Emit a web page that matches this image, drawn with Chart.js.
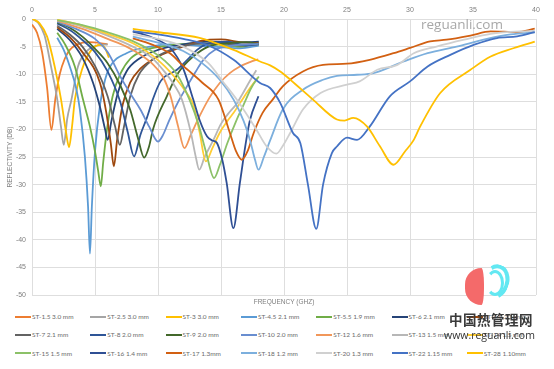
<!DOCTYPE html>
<html>
<head>
<meta charset="utf-8">
<script src="https://cdn.jsdelivr.net/npm/chart.js@4.4.1/dist/chart.umd.min.js"></script>
<style>
  html, body { margin: 0; padding: 0; background: #fff; }
  #wrap { position: relative; width: 554px; height: 369px; overflow: hidden; font-family: Lato, "Open Sans", sans-serif; }
  #chartBox { position: absolute; left: 0; top: 0; width: 554px; height: 310px; }
  .lg { position: absolute; height: 10px; font-size: 6.5px; color: #6b6b6b; white-space: nowrap; line-height: 10px; }
  .lg i { display: inline-block; width: 16px; height: 2px; vertical-align: middle; margin-right: 1px; margin-top: -1px; }
  .wm1 { position: absolute; left: 421px; top: 15px; font-size: 13.5px; color: #a8a8a8; font-family: "Open Sans", sans-serif; }
  .wm2 { position: absolute; left: 449px; top: 309px; font-size: 13.5px; font-weight: bold; color: #3a3a3a; font-family: "Noto Sans CJK SC", sans-serif; letter-spacing: 0.5px; }
  .wm3 { position: absolute; left: 444px; top: 328px; font-size: 10.5px; color: #333; font-family: "Open Sans", sans-serif; }
  .logoA { position: absolute; left: 465px; top: 268px; width: 19px; height: 37px; background: #f46a6a; border-radius: 19px 3px 3px 19px / 19px 19px 19px 19px; }
  .logoB { position: absolute; left: 481px; top: 264px; width: 20px; height: 28px; border: 4px solid #62e8f2; border-left-color: transparent; border-bottom-color: transparent; border-radius: 50%; transform: rotate(20deg); }
  .logoC { position: absolute; left: 486px; top: 270px; width: 12px; height: 20px; border: 3px solid #62e8f2; border-left-color: transparent; border-radius: 50%; }
</style>
</head>
<body>
<div id="wrap">
  <div id="chartBox"><canvas id="c" width="554" height="310"></canvas></div>
  <div id="legend"></div>
  <div class="wm1">reguanli.com</div>
  <div class="logoB"></div>
  <div class="logoC"></div>
  <div class="logoA"></div>
  <div class="wm2">中国热管理网</div>
  <div class="wm3">www.reguanli.com</div>
</div>
<script>
// frequency (GHz), reflectivity (dB) pairs
const ST_1_5 = [[0,-1],[0.4,-2.5],[0.8,-6],[1.2,-12.5],[1.54,-20.1],[1.85,-14.5],[2.2,-10],[2.6,-7.2],[3,-5.6],[3.6,-4.6],[4.5,-4.2],[5.5,-4.4],[6,-4.6]];
const ST_2_5 = [[0,0],[0.5,-0.7],[1,-3],[1.5,-8.5],[2,-14.5],[2.3,-19.5],[2.52,-22.8],[2.8,-18],[3.13,-14.6],[3.65,-8.6],[4.45,-5.6],[5.2,-4.8],[6,-4.6]];
const ST_3 = [[0.05,0],[0.6,-0.8],[1.2,-3.2],[1.8,-8.6],[2.3,-14.5],[2.7,-20.5],[2.94,-23.2],[3.2,-19],[3.4,-14.6],[4.05,-8.6],[4.72,-5.6],[5.4,-4.7],[5.8,-5.3],[6.1,-7]];
const ST_4_5 = [[2,-3.4],[2.5,-5.5],[3,-8.6],[3.5,-12.5],[3.8,-16.4],[4.2,-25],[4.45,-34],[4.6,-42.5],[4.75,-34],[5,-24],[5.4,-15.5],[5.8,-11],[6.2,-8.6],[7.5,-6.2],[9.4,-5],[11,-4.6],[13,-4.8],[15,-5.1],[16.5,-5.3],[18,-4.8]];
const ST_5_5 = [[2,-2.5],[2.6,-4.5],[3.4,-8.6],[4.05,-14.6],[4.6,-19.5],[5,-24],[5.25,-27.5],[5.46,-30.3],[5.65,-26],[5.95,-20],[6.4,-14],[7,-10],[7.8,-7.2],[9,-5.6],[10.5,-4.9],[13,-4.4],[15,-4.7],[16.5,-5],[18,-4.3]];
const ST_6 = [[2,-1.8],[3,-3.8],[4,-7],[4.85,-11.6],[5.4,-16],[5.8,-20],[6,-21.9],[6.3,-18.5],[6.8,-13.5],[7.5,-9.5],[8.5,-7.2],[10,-5.6],[12,-4.6],[14,-4.1],[16,-4.3],[18,-4.1]];
const ST_6_5 = [[2,-1.5],[3,-3.3],[4,-6],[5.4,-11.6],[5.9,-17],[6.25,-22.5],[6.5,-26.7],[6.75,-22],[7.2,-15.5],[7.8,-11.5],[8.6,-9],[9.6,-7.3],[10.8,-6],[12,-5],[13.5,-3.9],[15,-3.7],[16.5,-4.2],[18,-4.4]];
const ST_7 = [[2,-1.2],[3,-2.8],[4,-5],[5,-8.5],[6,-14],[6.6,-19.5],[6.97,-22.8],[7.3,-19.5],[7.8,-14],[8.5,-10],[9.5,-7.5],[11,-5.6],[13,-4.5],[15,-4.4],[16.5,-4.8],[18,-4.6]];
const ST_8 = [[2,-0.8],[3,-2],[4,-3.8],[5,-6],[6,-9.5],[7,-15],[7.6,-20.5],[8.1,-24.9],[8.6,-21],[9.1,-18],[9.6,-14.5],[10.2,-11.3],[11.5,-9.2],[12.5,-7],[13.1,-5.6],[14,-4.4],[15.5,-4.1],[17,-4.8],[18,-4.5]];
const ST_9 = [[2,-0.6],[3,-1.6],[4,-3.2],[5,-5.4],[6,-8],[7,-12],[7.8,-16.5],[8.4,-21.5],[8.9,-25.1],[9.3,-23],[9.6,-20],[10.7,-14],[11.6,-9.8],[12.8,-6.8],[14,-5],[15.5,-4.4],[17,-4.2],[18,-4.6]];
const ST_10 = [[2,-0.5],[3.5,-1.8],[5,-3.6],[6,-6],[7,-10.4],[7.8,-13.5],[8.6,-16.4],[9.3,-19.5],[10,-22.2],[10.4,-21],[10.9,-18.3],[11.6,-15],[12.3,-12.2],[13,-9.5],[13.6,-7.4],[14.5,-5.6],[16,-4.8],[18,-4.5]];
const ST_12 = [[2,-0.3],[4,-1.8],[6,-3.6],[7.5,-5],[8.5,-6.3],[9.5,-8],[10.4,-10.5],[11,-14],[11.6,-19.5],[12.1,-23.4],[12.6,-21],[13.3,-17.6],[14.1,-14.2],[14.9,-11.6],[15.7,-9.8],[16.5,-8.6],[17.3,-7.8],[17.96,-7.3]];
const ST_13 = [[2,-0.2],[4,-1.4],[6,-3],[8,-5],[9.5,-7],[10.5,-9.5],[11.3,-12],[11.9,-14.6],[12.6,-20.5],[13,-25],[13.27,-27.3],[13.7,-25],[14.4,-21.9],[15,-19],[15.7,-16.8],[16.2,-15.5],[16.75,-13.4],[17.3,-11.2],[17.8,-9.3]];
const ST_14 = [[2,-0.1],[4,-1.2],[6,-2.7],[8,-4.4],[9.5,-6.5],[10.5,-8.5],[11.5,-11],[12.3,-13.5],[12.8,-15.5],[13.3,-20.5],[13.8,-25.8],[14.3,-23.5],[14.9,-20.6],[15.5,-18.5],[16,-17],[16.8,-14.2],[17.4,-12.2],[17.9,-10.7]];
const ST_15 = [[2,-0.2],[4,-1.1],[6,-2.4],[8,-4],[9.5,-5.8],[10.5,-7.5],[11.5,-10],[12.5,-14.6],[13.2,-19],[13.8,-24],[14.45,-28.8],[14.9,-26.5],[15.5,-22.5],[16.2,-18.5],[16.8,-15.5],[17.4,-12.5],[18,-10.4]];
const ST_16 = [[8,-2.3],[9,-2.9],[10,-3.8],[11,-5.3],[12,-9],[12.8,-14.6],[13.3,-18.3],[13.9,-21.3],[14.3,-22],[14.66,-22.4],[15.1,-25.5],[15.45,-29.7],[15.98,-37.9],[16.5,-29.7],[17,-22],[17.3,-18.3],[17.97,-14]];
const ST_17 = [[8,-3.5],[9,-4.2],[10,-5.1],[11,-6.3],[12,-8.5],[13.5,-11.5],[14.8,-14.6],[15.7,-20.6],[16.2,-24],[16.65,-25.5],[17.1,-24],[17.6,-20.6],[18.3,-17],[19.1,-14.6],[19.9,-12.2],[21.5,-9.5],[23.1,-8.3],[25,-8.1],[26.8,-7.4],[28.7,-6.2],[30,-5.25],[31.6,-4.05],[32.9,-3.75],[34.8,-3],[36.4,-2.25],[38.5,-2.36],[39.9,-1.76]];
const ST_18 = [[8,-3.2],[10,-4.3],[12,-5.8],[13.5,-8],[14.9,-11],[16,-14.6],[16.8,-18.5],[17.3,-21.9],[17.7,-25.5],[17.97,-27.3],[18.4,-25],[18.9,-22],[19.9,-16.4],[21.5,-12.8],[23.1,-11],[24.2,-10.3],[25.8,-10.1],[27.1,-9.8],[29.5,-7.7],[31.4,-6.2],[33.7,-5],[36.1,-3.6],[38,-2.8],[39.9,-2.4]];
const ST_20 = [[8,-2.8],[10,-3.6],[12,-5],[14,-8],[15.2,-11.5],[16.25,-14.6],[17.8,-20],[18.6,-23],[19.4,-24.4],[19.9,-23],[20.5,-20.6],[21.5,-16.4],[22.9,-13.4],[25,-11.9],[26,-11.3],[27.4,-9.2],[29,-8.3],[30.3,-6.2],[32.1,-5],[34.3,-3.75],[36.4,-2.7],[39.9,-2.1]];
const ST_22 = [[8,-2.2],[10,-2.8],[12,-3.6],[14,-4.8],[16,-7.4],[18.1,-11.6],[18.9,-12.5],[19.7,-15.2],[20.7,-20.6],[21.3,-22.5],[21.9,-30],[22.56,-38],[23.1,-30],[23.8,-24.3],[24.2,-23.1],[25,-21.5],[25.8,-21.9],[26.8,-19.5],[28.4,-14],[30,-11.3],[31.4,-8.6],[33.2,-6.5],[35.1,-4.65],[36.9,-3.45],[38.5,-3.15],[39.9,-2.4]];
const ST_28 = [[8,-1.8],[10,-2.4],[13.3,-3.4],[16,-5.6],[18.1,-7.7],[18.9,-8.4],[19.7,-9.5],[20.5,-11],[22.3,-14.6],[24.2,-18.2],[24.8,-18.4],[25.5,-17.9],[26.6,-19.5],[27.6,-23],[28.7,-26.4],[29.6,-24],[30.3,-21.9],[30.8,-19.5],[32.4,-13.4],[34.8,-9.2],[36.4,-6.8],[38.2,-5.3],[39.9,-4.1]];

const seriesNames = ['ST-1.5 3.0 mm','ST-2.5 3.0 mm','ST-3 3.0 mm','ST-4.5 2.1 mm','ST-5.5 1.9 mm','ST-6 2.1 mm','ST-6.5 2.1 mm',
  'ST-7 2.1 mm','ST-8 2.0 mm','ST-9 2.0 mm','ST-10 2.0 mm','ST-12 1.6 mm','ST-13 1.5 mm','ST-14 1.5 mm',
  'ST-15 1.5 mm','ST-16 1.4 mm','ST-17 1.3mm','ST-18 1.2 mm','ST-20 1.3 mm','ST-22 1.15 mm','ST-28 1.10mm'];
const seriesData = [ST_1_5, ST_2_5, ST_3, ST_4_5, ST_5_5, ST_6, ST_6_5, ST_7, ST_8, ST_9, ST_10, ST_12, ST_13, ST_14,
  ST_15, ST_16, ST_17, ST_18, ST_20, ST_22, ST_28];
const xTicks = [0, 5, 10, 15, 20, 25, 30, 35, 40];
const yTicks = [0, -5, -10, -15, -20, -25, -30, -35, -40, -45, -50];

const colors = ['#ED7D31','#A5A5A5','#FFC000','#5B9BD5','#70AD47','#264478','#9E480E',
  '#636363','#2E5597','#43682B','#698ED0','#F1975A','#B7B7B7','#FFCD33',
  '#8CC168','#2F4F94','#D26012','#7CAFDD','#D0D0D0','#4472C4','#FFC000'];

const tickColor = '#7f7f7f';
const gridColor = '#dedede';

const datasets = seriesNames.map((name, i) => ({
    label: name,
    data: seriesData[i].map(p => ({ x: p[0], y: p[1] })),
    borderColor: colors[i],
    backgroundColor: colors[i],
    borderWidth: 1.8,
    pointRadius: 0,
    cubicInterpolationMode: 'monotone',
    fill: false,
    order: seriesNames.length - i
}));

new Chart(document.getElementById('c'), {
    type: 'line',
    data: { datasets },
    options: {
        responsive: false,
        animation: false,
        devicePixelRatio: 1,
        layout: { padding: { left: 0, right: 18, top: 0, bottom: 0 } },
        plugins: { legend: { display: false }, tooltip: { enabled: false } },
        scales: {
            x: {
                type: 'linear', position: 'top', min: 0, max: 40,
                afterBuildTicks: s => { s.ticks = xTicks.map(v => ({ value: v })); },
                afterFit: s => { s.height = 19; },
                ticks: { color: tickColor, font: { size: 7 }, padding: 5, maxRotation: 0 },
                grid: { color: gridColor, drawTicks: false },
                border: { display: false }
            },
            x2: {
                type: 'linear', position: 'bottom', min: 0, max: 40,
                afterFit: s => { s.height = 15; },
                ticks: { display: false },
                grid: { display: false },
                border: { display: false },
                title: { display: true, text: 'FREQUENCY (GHZ)', color: tickColor, font: { size: 6.5 }, padding: { top: 0, bottom: 4 } }
            },
            y: {
                min: -50, max: 0,
                afterBuildTicks: s => { s.ticks = yTicks.map(v => ({ value: v })); },
                afterFit: s => { s.width = 32; },
                ticks: { color: tickColor, font: { size: 7 }, padding: 6 },
                grid: { color: gridColor, drawTicks: false },
                border: { display: false },
                title: { display: true, text: 'REFLECTIVITY (DB)', color: tickColor, font: { size: 6.5 }, padding: { top: 6, bottom: 0 } }
            }
        }
    }
});

// legend: 3 rows x 7 columns
const legend = document.getElementById('legend');
seriesNames.forEach((name, i) => {
    const row = Math.floor(i / 7), col = i % 7;
    const el = document.createElement('div');
    el.className = 'lg';
    el.style.left = (15 + col * 75.3) + 'px';
    el.style.top = (312 + row * 18.3) + 'px';
    el.innerHTML = '<i style="background:' + colors[i] + '"></i>' + name;
    legend.appendChild(el);
});
</script>
</body>
</html>
